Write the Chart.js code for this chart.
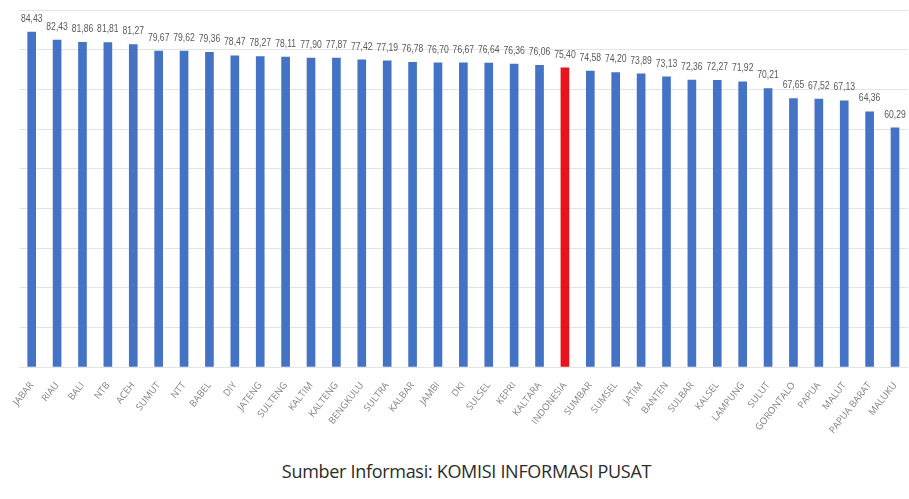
<!DOCTYPE html>
<html>
<head>
<meta charset="utf-8">
<script src="https://cdn.jsdelivr.net/npm/chart.js@4.4.1/dist/chart.umd.min.js"></script>
<style>
  html, body { margin: 0; padding: 0; background: #ffffff; }
  #wrap { position: relative; width: 909px; height: 499px; overflow: hidden; }
  #chartBox { position: absolute; left: 0; top: 0; width: 909px; height: 440px; }
  #source {
    position: absolute; left: 0; width: 909px; top: 459px;
    text-align: center; padding-left: 24px; box-sizing: border-box;
    font-family: "Open Sans", sans-serif;
    font-size: 18px; color: #2b2b2b; letter-spacing: -0.3px;
  }
</style>
</head>
<body>
<div id="wrap">
  <div id="chartBox"><canvas id="chart"></canvas></div>
  <div id="source">Sumber Informasi: KOMISI INFORMASI PUSAT</div>
</div>
<script>
// Provinces ranked by score, national average highlighted
const provinces = [
  "JABAR", "RIAU", "BALI", "NTB", "ACEH", "SUMUT", "NTT", "BABEL", "DIY", "JATENG",
  "SULTENG", "KALTIM", "KALTENG", "BENGKULU", "SULTRA", "KALBAR", "JAMBI", "DKI", "SULSEL", "KEPRI",
  "KALTARA", "INDONESIA", "SUMBAR", "SUMSEL", "JATIM", "BANTEN", "SULBAR", "KALSEL", "LAMPUNG", "SULUT",
  "GORONTALO", "PAPUA", "MALUT", "PAPUA BARAT", "MALUKU"
];
const scores = [
  84.43, 82.43, 81.86, 81.81, 81.27, 79.67, 79.62, 79.36, 78.47, 78.27,
  78.11, 77.90, 77.87, 77.42, 77.19, 76.78, 76.70, 76.67, 76.64, 76.36,
  76.06, 75.40, 74.58, 74.20, 73.89, 73.13, 72.36, 72.27, 71.92, 70.21,
  67.65, 67.52, 67.13, 64.36, 60.29
];
const highlighted = "INDONESIA";

const barColors = provinces.map(p => p === highlighted ? "#e8131b" : "#4472c4");

// Value labels above each bar, comma as decimal separator, slightly condensed
const valueLabels = {
  id: "valueLabels",
  afterDatasetsDraw(chart) {
    const ctx = chart.ctx;
    const meta = chart.getDatasetMeta(0);
    ctx.save();
    ctx.font = '10px "Liberation Sans", sans-serif';
    ctx.fillStyle = "#595959";
    ctx.textAlign = "center";
    ctx.textBaseline = "bottom";
    meta.data.forEach((bar, i) => {
      const txt = scores[i].toFixed(2).replace(".", ",");
      ctx.save();
      ctx.translate(bar.x, bar.y - 8);
      ctx.scale(0.86, 1);
      ctx.fillText(txt, 0, 0);
      ctx.restore();
    });
    ctx.restore();
  }
};

new Chart(document.getElementById("chart"), {
  type: "bar",
  data: {
    labels: provinces,
    datasets: [{
      data: scores,
      backgroundColor: barColors,
      barThickness: 8
    }]
  },
  options: {
    responsive: true,
    maintainAspectRatio: false,
    animation: false,
    layout: { padding: { top: 10, right: 0, left: 0, bottom: 0 } },
    plugins: {
      legend: { display: false },
      tooltip: { enabled: false }
    },
    scales: {
      x: {
        grid: { display: false },
        border: { display: false },
        ticks: {
          minRotation: 52,
          maxRotation: 52,
          autoSkip: false,
          color: "#808080",
          padding: 5,
          font: { family: '"Open Sans", sans-serif', size: 9.5 }
        },
        afterFit(scale) { scale.height = 73; }
      },
      y: {
        min: 0,
        max: 90,
        ticks: { stepSize: 10, display: false },
        grid: { color: "#e3e3e3", drawTicks: false },
        border: { display: false },
        afterFit(scale) { scale.width = 19; }
      }
    }
  },
  plugins: [valueLabels]
});
</script>
</body>
</html>
